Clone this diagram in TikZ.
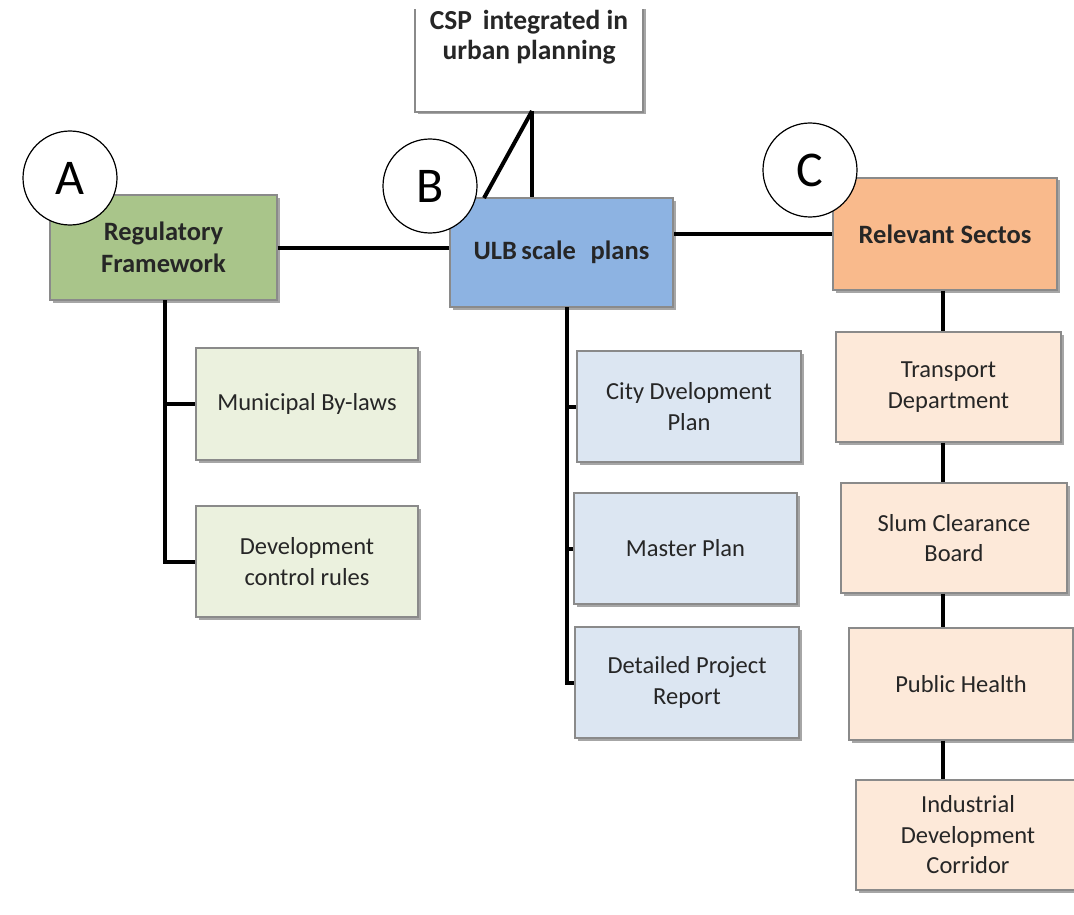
\documentclass[tikz,border=0pt]{standalone}
\usepackage{fontspec}
\setmainfont{Carlito}
\usetikzlibrary{shadows}
\definecolor{txt}{HTML}{262626}
\definecolor{edge}{HTML}{8A8A8A}
\definecolor{rfFill}{HTML}{A9C58A}
\definecolor{ulbFill}{HTML}{8DB3E2}
\definecolor{rsFill}{HTML}{F9BA8C}
\definecolor{rfSub}{HTML}{EBF1DE}
\definecolor{ulbSub}{HTML}{DCE6F2}
\definecolor{rsSub}{HTML}{FDE9D9}
\tikzset{
  box/.style={rectangle, draw=edge, line width=1.2pt, inner sep=0pt, align=center,
    text=txt, font=\fontsize{24.5}{30.5}\selectfont,
    drop shadow={shadow xshift=2.5pt, shadow yshift=-2.5pt, fill=black, opacity=0.35}},
  headbox/.style={box, font=\bfseries\fontsize{26.5}{32}\selectfont},
  badge/.style={circle, draw=black, line width=1.2pt, fill=white, minimum size=94pt,
    inner sep=0pt, font=\fontsize{50}{50}\selectfont, text=black},
  link/.style={line width=4pt, draw=black}
}
\begin{document}
\begin{tikzpicture}[x=1pt,y=-1pt]
\useasboundingbox (0,0) rectangle (1074,915);
\begin{scope}
\clip (0,10) rectangle (1074,915);
% top box, running off the upper edge
\node[box, fill=white, minimum width=228pt, minimum height=130pt] (csp) at (529,47) {};
\node[font=\bfseries\fontsize{27.5}{30}\selectfont, text=txt, align=center, anchor=north] (csptxt) at (529,7) {CSP\, integrated in\\urban planning};
\end{scope}

% main boxes
\node[headbox, fill=rfFill, minimum width=227pt, minimum height=105pt] (rf) at (163.5,247.5) {Regulatory\\Framework};
\node[headbox, fill=ulbFill, minimum width=223pt, minimum height=109pt] (ulb) at (561.5,252.5) {ULB\,scale\,\, plans};
\node[headbox, fill=rsFill, minimum width=224pt, minimum height=112pt] (rs) at (945,234) {Relevant Sectos};

% regulatory framework column
\node[box, fill=rfSub, minimum width=222pt, minimum height=112pt] (mbl) at (307,404) {Municipal By-laws};
\node[box, fill=rfSub, minimum width=222pt, minimum height=111pt] (dcr) at (307,561.5) {Development\\control rules};

% ULB plans column
\node[box, fill=ulbSub, minimum width=224pt, minimum height=111pt] (cdp) at (689,406.5) {City Dvelopment\\Plan};
\node[box, fill=ulbSub, minimum width=223pt, minimum height=111pt] (mp) at (685.5,548.5) {Master Plan};
\node[box, fill=ulbSub, minimum width=224pt, minimum height=111pt] (dpr) at (687,682.5) {Detailed Project\\Report};

% sectors column
\node[box, fill=rsSub, minimum width=225pt, minimum height=110pt] (td) at (948.5,387) {Transport\\Department};
\node[box, fill=rsSub, minimum width=226pt, minimum height=110pt] (scb) at (954,538) {Slum Clearance\\Board};
\node[box, fill=rsSub, minimum width=224pt, minimum height=112pt] (ph) at (961,684) {Public Health};
\node[box, fill=rsSub, minimum width=224pt, minimum height=110pt] (idc) at (968,835) {Industrial\\Development\\Corridor};

% links between the top-level boxes
\draw[link] (rf.east) -- (rf.east -| ulb.west);
\draw[link] (rs.west) -- (rs.west -| ulb.east);
\coordinate (cspfoot) at (532,111);
\coordinate (ulbcorner) at (484,198);
\draw[link] (cspfoot) -- (cspfoot |- ulb.north);
\draw[link] (cspfoot) -- (ulbcorner);

% left tree
\coordinate (rfspine) at (165,300);
\draw[link] (rfspine) -- (rfspine |- dcr.west) -- (dcr.west);
\draw[link] (rfspine |- mbl.west) -- (mbl.west);

% middle tree
\coordinate (ulbspine) at (567,307);
\draw[link] (ulbspine) -- (ulbspine |- dpr.west) -- (dpr.west);
\draw[link] (ulbspine |- cdp.west) -- (cdp.west);
\draw[link] (ulbspine |- mp.west) -- (mp.west);

% right chain
\coordinate (rsx) at (943,0);
\draw[link] (rsx |- rs.south) -- (rsx |- td.north);
\draw[link] (rsx |- td.south) -- (rsx |- scb.north);
\draw[link] (rsx |- scb.south) -- (rsx |- ph.north);
\draw[link] (rsx |- ph.south) -- (rsx |- idc.north);

% section badges
\node[badge] (ba) at (70,178) {A};
\node[badge] (bb) at (430,186) {B};
\node[badge] (bc) at (810,170) {C};
\end{tikzpicture}
\end{document}
